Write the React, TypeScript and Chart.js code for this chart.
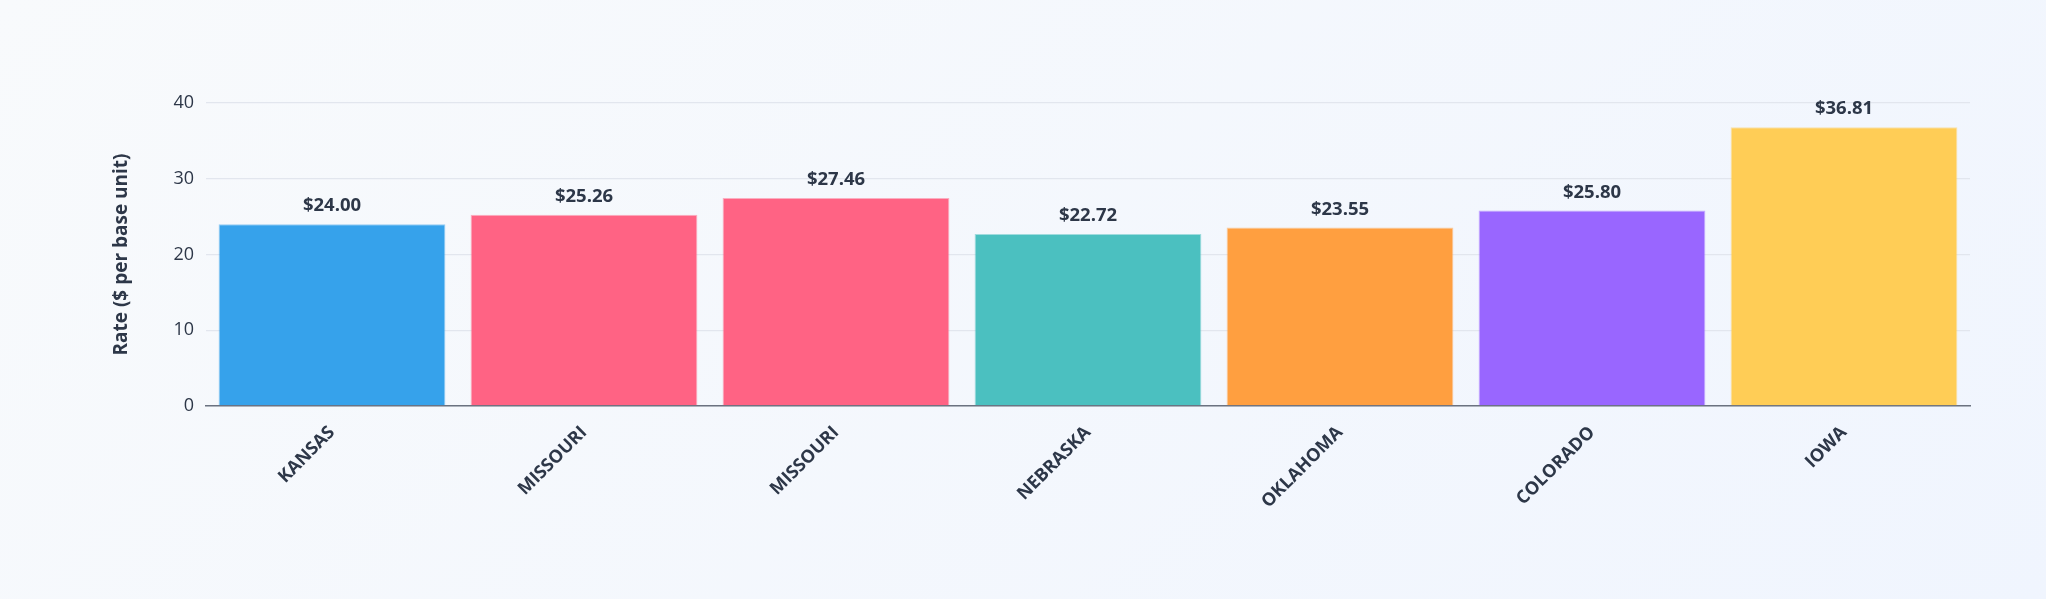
import { useEffect, useRef } from "react"
import { Chart, registerables, Plugin } from "chart.js"

Chart.register(...registerables)

const states = ["KANSAS", "MISSOURI", "MISSOURI", "NEBRASKA", "OKLAHOMA", "COLORADO", "IOWA"]
const rates = [24.0, 25.26, 27.46, 22.72, 23.55, 25.8, 36.81]
const yTicks = [0, 10, 20, 30, 40]

const barColors = ["#36A2EB", "#FF6384", "#FF6384", "#4BC0C0", "#FF9F40", "#9966FF", "#FFCD56"]
const barBorders = [
  "rgba(54, 162, 235, 0.5)",
  "rgba(255, 99, 132, 0.5)",
  "rgba(255, 99, 132, 0.5)",
  "rgba(75, 192, 192, 0.5)",
  "rgba(255, 159, 64, 0.5)",
  "rgba(153, 102, 255, 0.5)",
  "rgba(255, 205, 86, 0.5)",
]

const textColor = "#2d3748"
const fontFamily = "'Open Sans', 'Noto Sans', sans-serif"

// draws the "$xx.xx" values above each bar
const valueLabels: Plugin<"bar"> = {
  id: "valueLabels",
  afterDatasetsDraw(chart) {
    const ctx = chart.ctx
    const meta = chart.getDatasetMeta(0)
    ctx.save()
    ctx.font = `bold 18.5px ${fontFamily}`
    ctx.fillStyle = textColor
    ctx.textAlign = "center"
    ctx.textBaseline = "bottom"
    meta.data.forEach((bar, i) => {
      const v = chart.data.datasets[0].data[i] as number
      ctx.fillText(`$${v.toFixed(2)}`, bar.x, bar.y - 9)
    })
    ctx.restore()
  },
}

export default function App() {
  const chartRef = useRef<HTMLCanvasElement>(null)
  const chartInstance = useRef<Chart | null>(null)

  useEffect(() => {
    document.body.style.margin = "0"
    if (!chartRef.current) return
    if (chartInstance.current) chartInstance.current.destroy()

    const ctx = chartRef.current.getContext("2d")
    if (!ctx) return

    chartInstance.current = new Chart(ctx, {
      type: "bar",
      data: {
        labels: states,
        datasets: [
          {
            label: "Rate",
            data: rates,
            backgroundColor: barColors,
            borderColor: barBorders,
            borderWidth: 1,
            categoryPercentage: 0.9,
            barPercentage: 1,
          },
        ],
      },
      options: {
        animation: false,
        responsive: true,
        maintainAspectRatio: false,
        layout: {
          padding: { left: 108, right: 76, top: 103, bottom: 0 },
        },
        scales: {
          x: {
            grid: { display: false },
            border: { display: true, color: "#6b7280", width: 1.5 },
            ticks: {
              color: textColor,
              font: { family: fontFamily, size: 18, weight: "bold" },
              maxRotation: 45,
              minRotation: 45,
              padding: 8,
            },
            afterFit: (scale) => {
              scale.height = 193
            },
          },
          y: {
            min: 0,
            max: 40,
            afterBuildTicks: (scale) => {
              scale.ticks = yTicks.map((v) => ({ value: v }))
            },
            grid: { color: "#e2e6ee", lineWidth: 1.3, drawTicks: false },
            border: { display: false },
            ticks: {
              color: textColor,
              font: { family: fontFamily, size: 18 },
              padding: 12,
            },
            title: {
              display: true,
              text: "Rate ($ per base unit)",
              color: textColor,
              font: { family: fontFamily, size: 19, weight: "bold" },
              padding: { top: 2, bottom: 4 },
            },
            afterFit: (scale) => {
              scale.width = 98
            },
          },
        },
        plugins: {
          legend: { display: false },
          tooltip: { enabled: false },
        },
      },
      plugins: [valueLabels],
    })

    return () => {
      if (chartInstance.current) {
        chartInstance.current.destroy()
        chartInstance.current = null
      }
    }
  }, [])

  return (
    <div
      style={{
        width: 2046,
        height: 599,
        background: "linear-gradient(135deg, #f8fafc 0%, #f0f5fe 100%)",
      }}
    >
      <canvas ref={chartRef} />
    </div>
  )
}
